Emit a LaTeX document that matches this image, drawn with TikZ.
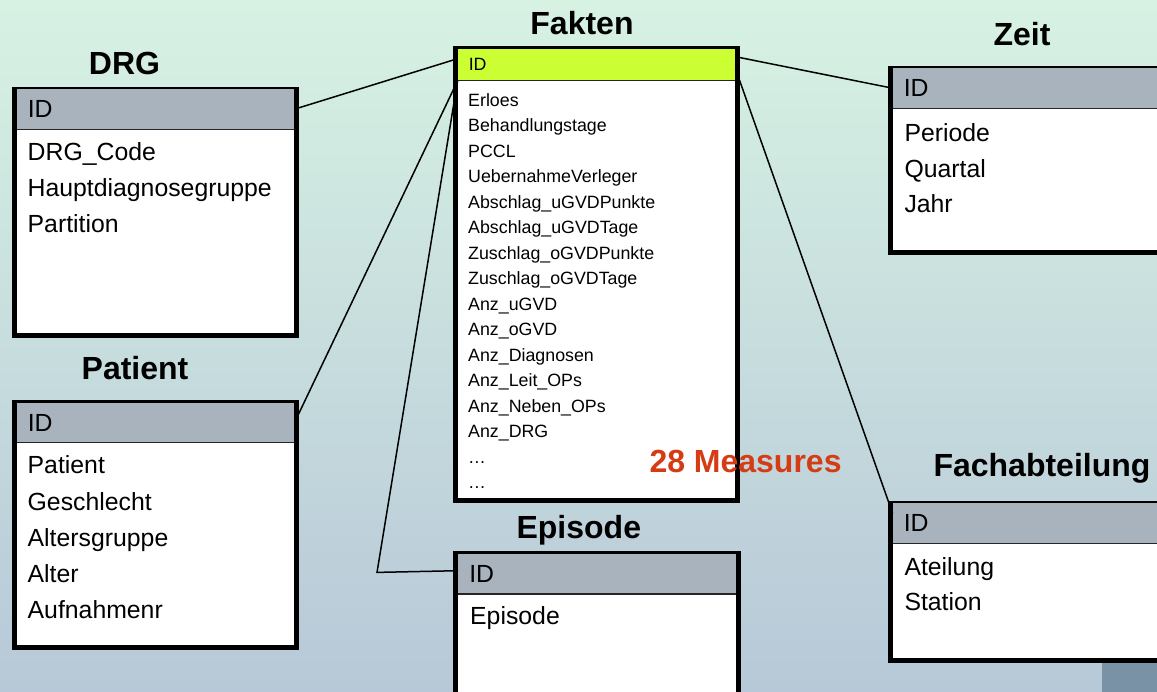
\documentclass[tikz,border=0pt]{standalone}
\usepackage{fontspec}
\setmainfont{Liberation Sans}
\usetikzlibrary{positioning}

\definecolor{bgtop}{RGB}{215,242,227}
\definecolor{bgbottom}{RGB}{183,200,216}
\definecolor{idgrey}{RGB}{169,179,190}
\definecolor{idgreen}{RGB}{204,255,51}
\definecolor{measred}{RGB}{214,60,20}
\definecolor{slideblue}{RGB}{122,146,166}

\tikzset{
  tbl/.style={rectangle, draw, line width=4.5pt, fill=white, inner sep=0pt, minimum width=282pt},
  hdr/.style={rectangle, fill=idgrey, inner sep=0pt, inner xsep=11pt, minimum height=40pt, text width=255.5pt, align=left, font=\fontsize{24.8}{0}\selectfont},
  factid/.style={hdr, fill=idgreen, minimum height=32pt, font=\fontsize{17.8}{0}\selectfont},
  idline/.style={line width=1.2pt, black!85},
  item/.style={anchor=base west, inner sep=0pt, font=\fontsize{24.8}{29}\selectfont},
  measure/.style={item, font=\fontsize{17.8}{21}\selectfont},
  title/.style={anchor=base, inner sep=0pt, font=\fontsize{32}{38}\selectfont\bfseries},
  link/.style={line width=1.5pt},
}

\begin{document}
\begin{tikzpicture}[x=1pt, y=-1pt]
  \useasboundingbox (0,0) rectangle (1157,692);
  \clip (0,0) rectangle (1157,692);
  \shade[top color=bgtop, bottom color=bgbottom] (0,0) rectangle (1157,692);
  \fill[slideblue] (1102,650) rectangle (1157,692);

  % fact table
  \node (fakt) [tbl, minimum height=452pt] at (596.5, 274.5) {};
  \node (faktid) [factid, below=2.25pt of fakt.north] {ID};
  \draw[idline] (faktid.south west) -- (faktid.south east);
  \foreach \m [count=\i] in {Erloes, Behandlungstage, PCCL, UebernahmeVerleger, Abschlag\_uGVDPunkte, Abschlag\_uGVDTage, Zuschlag\_oGVDPunkte, Zuschlag\_oGVDTage, Anz\_uGVD, Anz\_oGVD, Anz\_Diagnosen, Anz\_Leit\_OPs, Anz\_Neben\_OPs, Anz\_DRG, …, …}
    \node (fm\i) [measure] at (468, 81+25.5*\i) {\m};
  \node (tfakt) [title] at (582, 35) {Fakten};

  % dimensions
  \node (drg) [tbl, minimum height=246.5pt] at (155.5, 212.25) {};
  \node (drgid) [hdr, below=2.25pt of drg.north] {ID};
  \draw[idline] (drgid.south west) -- (drgid.south east);
  \foreach \a [count=\i] in {DRG\_Code, Hauptdiagnosegruppe, Partition}
    \node (drg\i) [item] at (27.5, 124.7+36*\i) {\a};
  \node (tdrg) [title] at (124.5, 75) {DRG};

  \node (pat) [tbl, minimum height=245pt] at (155.5, 525) {};
  \node (patid) [hdr, below=2.25pt of pat.north] {ID};
  \draw[idline] (patid.south west) -- (patid.south east);
  \foreach \a [count=\i] in {Patient, Geschlecht, Altersgruppe, Alter, Aufnahmenr}
    \node (pat\i) [item] at (27.5, 438+36*\i) {\a};
  \node (tpat) [title] at (135, 379.3) {Patient};

  \node (epi) [tbl, minimum width=283pt, minimum height=206.5pt] at (597, 656.75) {};
  \node (epiid) [hdr, below=2.25pt of epi.north] {ID};
  \draw[idline] (epiid.south west) -- (epiid.south east);
  \node (epi1) [item] at (470, 624) {Episode};
  \node (tepi) [title] at (578.8, 538.3) {Episode};

  \node (zeit) [tbl, minimum height=184.5pt] at (1031.5, 160.25) {};
  \node (zeitid) [hdr, below=2.25pt of zeit.north] {ID};
  \draw[idline] (zeitid.south west) -- (zeitid.south east);
  \foreach \a [count=\i] in {Periode, Quartal, Jahr}
    \node (zeit\i) [item] at (904.3, 106+35.6*\i) {\a};
  \node (tzeit) [title] at (1022, 45.7) {Zeit};

  \node (fach) [tbl, minimum height=157.5pt] at (1031.5, 581.75) {};
  \node (fachid) [hdr, below=2.25pt of fach.north] {ID};
  \draw[idline] (fachid.south west) -- (fachid.south east);
  \foreach \a [count=\i] in {Ateilung, Station}
    \node (fach\i) [item] at (904.3, 539.3+35.8*\i) {\a};
  \node (tfach) [title] at (1042, 476.7) {Fachabteilung};

  % links to the fact table
  \coordinate (bend) at (377, 572.4);
  \draw[link] (drgid.east) -- ([yshift=6pt]faktid.west);
  \draw[link] (patid.east) -- (faktid.south west);
  \draw[link] ([yshift=3pt]epiid.west) -- (bend) -- (faktid.south west);
  \draw[link] ([yshift=8pt]faktid.east) -- (zeitid.west);
  \draw[link] ([yshift=-4pt]faktid.east) -- ([yshift=10pt]fachid.west);

  \node (meas) [anchor=base west, inner sep=0pt, text=measred, font=\fontsize{32}{38}\selectfont\bfseries] at (649.3, 472.7) {28 Measures};
\end{tikzpicture}
\end{document}
